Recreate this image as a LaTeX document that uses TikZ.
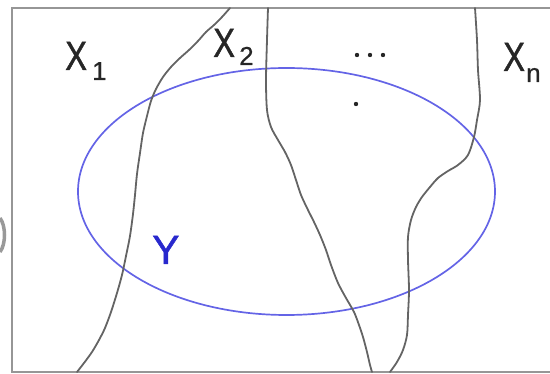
\documentclass[tikz,border=0pt]{standalone}
\usepackage{fontspec}
\setmainfont{Liberation Sans}
\newfontfamily\heavyfont[FakeBold=1.2]{Liberation Sans}
\newfontfamily\semiheavyfont[FakeBold=0.6]{Liberation Sans}
\definecolor{framegray}{RGB}{150,150,150}
\definecolor{curvegray}{RGB}{100,100,100}
\definecolor{ellblue}{RGB}{100,100,230}
\definecolor{ytext}{RGB}{40,40,205}
\tikzset{
  bigtxt/.style={inner sep=0pt, anchor=base west, font=\heavyfont\fontsize{41}{41}\selectfont, text=black!85},
  subtxt/.style={inner sep=0pt, anchor=base west, font=\semiheavyfont\fontsize{26}{26}\selectfont, text=black!85},
  border/.style={draw=framegray, line width=1.4pt},
  region/.style={draw=curvegray, line width=1.8pt, line join=round, line cap=round},
  setY/.style={draw=ellblue, line width=1.7pt},
  dotmark/.style={fill=black!85, draw=none}
}
\newcommand{\narrowX}{\scalebox{0.8}[1]{X}}
\begin{document}
\begin{tikzpicture}[x=1pt,y=-1pt]
\useasboundingbox (0,0) rectangle (550,374);
% frame
\draw[border] (550,8) -- (12,8) -- (12,372) -- (550,372);
% left artifact
\draw[draw=gray!80, line width=3.5pt] (0,218) .. controls (6,226) and (6,244) .. (0,252);
% ellipse Y
\draw[setY] (286.5,191.5) ellipse [x radius=208.5, y radius=123.5];
% curves
\draw[region] plot[smooth, tension=0.5] coordinates {(230,8) (222,17) (214,25) (206,32) (198,41) (189,50) (180,58) (171,67) (163,77) (156,89) (151,101) (147,116) (143,133) (140,153) (137,174) (135,195) (133,214) (130,236) (126,256) (122,275) (117,293) (111,312) (105,328) (99,340) (92,352) (84,363) (77,372)};
\draw[region] plot[smooth, tension=0.5] coordinates {(268,8) (267,40) (266,80) (267,110) (271,127) (278,140) (285,152) (291,165) (296,180) (301,195) (308,210) (314,222) (320,235) (326,250) (331,265) (338,283) (346,298) (354,312) (359,325) (363,337) (367,352) (370,365) (372,372)};
\draw[region] plot[smooth, tension=0.5] coordinates {(475,8) (477,40) (478,70) (480,100) (477,120) (474,137) (468,155) (458,165) (448,171) (438,178) (430,187) (422,197) (416,207) (411,220) (408,237) (408,260) (409,290) (408,315) (407,335) (403,350) (397,362) (390,372)};
% labels
\node[bigtxt] (x1) at (65,70) {\narrowX};
\node[subtxt] (s1) at (92,80) {1};
\node[bigtxt] (x2) at (213,57) {\narrowX};
\node[subtxt] (s2) at (239,65) {2};
\node[bigtxt] (xn) at (503,71) {\narrowX};
\node[subtxt] (sn) at (526,82) {n};
\node[bigtxt, text=ytext] (y) at (152,264) {Y};
% dots
\fill[dotmark] (357,55) circle (2.2);
\fill[dotmark] (370,55) circle (2.2);
\fill[dotmark] (383,55) circle (2.2);
\fill[dotmark] (356,104) circle (2.2);
\end{tikzpicture}
\end{document}
